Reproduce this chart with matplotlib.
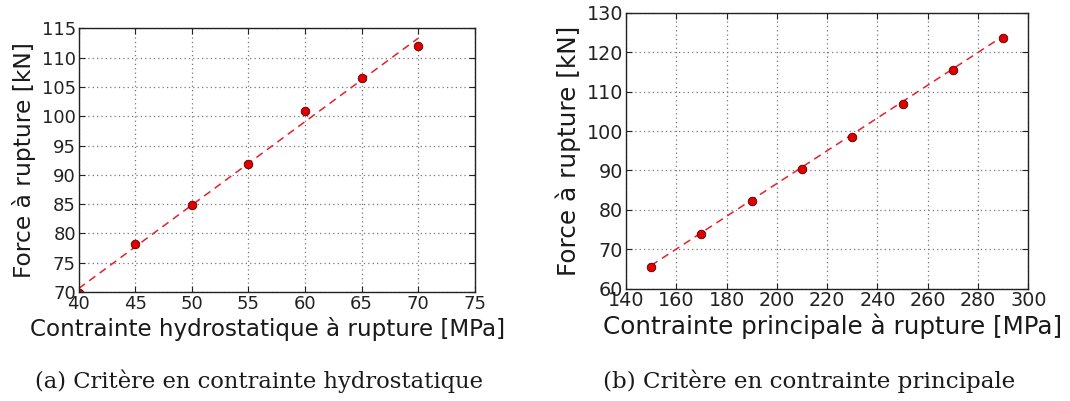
import matplotlib
matplotlib.use("Agg")
import matplotlib.pyplot as plt
import numpy as np

# Data (a)
x_hydro = [40, 45, 50, 55, 60, 65, 70]
f_hydro = [69.9, 78.2, 84.85, 91.8, 100.95, 106.5, 111.9]
fit_hydro_x = [40, 70]
fit_hydro_y = [70.6, 113.3]
xticks_a = [40, 45, 50, 55, 60, 65, 70, 75]
yticks_a = [70, 75, 80, 85, 90, 95, 100, 105, 110, 115]

# Data (b)
x_princ = [150, 170, 190, 210, 230, 250, 270, 290]
f_princ = [65.5, 73.9, 82.2, 90.4, 98.5, 106.9, 115.6, 123.65]
fit_princ_x = [150, 290]
fit_princ_y = [65.9, 124.1]
xticks_b = [140, 160, 180, 200, 220, 240, 260, 280, 300]
yticks_b = [60, 70, 80, 90, 100, 110, 120, 130]

xlabel_a = "Contrainte hydrostatique à rupture [MPa]"
xlabel_b = "Contrainte principale à rupture [MPa]"
ylabel = "Force à rupture [kN]"
caption_a = "(a) Critère en contrainte hydrostatique"
caption_b = "(b) Critère en contrainte principale"

fig = plt.figure(figsize=(10.70, 4.01), dpi=100)
ax1 = fig.add_axes([0.0736, 0.2718, 0.370, 0.6576])
ax2 = fig.add_axes([0.585, 0.280, 0.376, 0.688])

def style(ax, xt, yt, tsize, lsize):
    ax.set_xticks(xt)
    ax.set_yticks(yt)
    ax.set_xlim(xt[0], xt[-1])
    ax.set_ylim(yt[0], yt[-1])
    ax.tick_params(direction="in", top=True, right=True, labelsize=tsize,
                   length=4, width=0.8, pad=2, colors="#222222")
    ax.grid(True, linestyle=(0, (1, 2.5)), color="#777777", linewidth=0.9)
    for s in ax.spines.values():
        s.set_linewidth(1.0)
        s.set_color("#222222")
    ax.set_ylabel(ylabel, fontsize=lsize, color="#1a1a1a", labelpad=4)

ax1.plot(fit_hydro_x, fit_hydro_y, "--", color="#e8202a", linewidth=1.1, dashes=(5, 3.5))
ax1.plot(x_hydro, f_hydro, "o", color="#e00000", markeredgecolor="#550000",
         markeredgewidth=0.6, markersize=6.2)
style(ax1, xticks_a, yticks_a, 13, 16.8)
ax1.set_xlabel(xlabel_a, fontsize=16.6, color="#1a1a1a")
ax1.xaxis.set_label_coords(0.476, -0.095)

ax2.plot(fit_princ_x, fit_princ_y, "--", color="#e8202a", linewidth=1.1, dashes=(5, 3.5))
ax2.plot(x_princ, f_princ, "o", color="#e00000", markeredgecolor="#550000",
         markeredgewidth=0.6, markersize=6.2)
style(ax2, xticks_b, yticks_b, 13.8, 17.8)
ax2.set_xlabel(xlabel_b, fontsize=17.7, color="#1a1a1a")
ax2.xaxis.set_label_coords(0.514, -0.09)

fig.text(35 / 1070, 1 - 388 / 401, caption_a, fontsize=16.3, family="DejaVu Serif",
         ha="left", va="baseline", color="#1a1a1a")
fig.text(603 / 1070, 1 - 388 / 401, caption_b, fontsize=16.6, family="DejaVu Serif",
         ha="left", va="baseline", color="#1a1a1a")

fig.savefig("out.png", dpi=100)
